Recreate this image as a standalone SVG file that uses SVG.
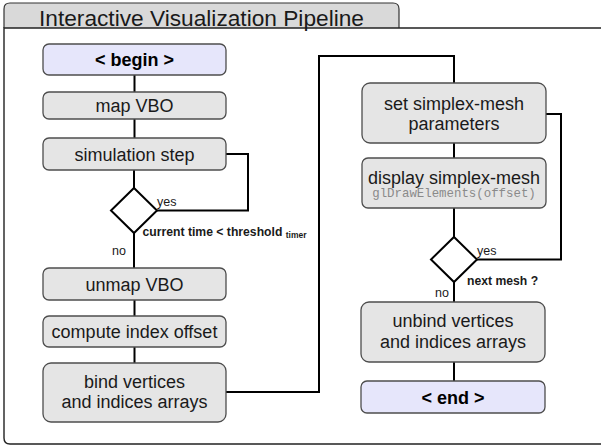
<svg xmlns="http://www.w3.org/2000/svg" width="601" height="448" viewBox="0 0 601 448">
<style>
.box{fill:#e5e5e5;stroke:#4d4d4d;stroke-width:1.3}
.term{fill:#e6e6fb;stroke:#4d4d4d;stroke-width:1.3}
.dia{fill:#fff;stroke:#000;stroke-width:2}
.t{font-family:"Liberation Sans",Arial,sans-serif;font-size:18px;fill:#1a1a1a;text-anchor:middle}
.tb{font-family:"Liberation Sans",Arial,sans-serif;font-size:18px;font-weight:bold;fill:#000;text-anchor:middle}
.lbl{font-family:"Liberation Sans",Arial,sans-serif;font-size:12.5px;fill:#1a1a1a}
.cond{font-family:"Liberation Sans",Arial,sans-serif;font-size:12.2px;font-weight:bold;fill:#1a1a1a}
.mono{font-family:"Liberation Mono","Courier New",monospace;font-size:12.4px;fill:#8a8a8a;text-anchor:middle}
.c{fill:none;stroke:#000;stroke-width:2}
</style>
<rect width="601" height="448" fill="#fff"/>
<g id="frame">
<path d="M4,28 V9 Q4,3 10,3 H393 Q399,3 399,9 V28" fill="#d9d9d9" stroke="#333" stroke-width="1.2"/>
<path d="M610,28 H4 V438 Q4,444 10,444 H610" fill="#fff" stroke="#222" stroke-width="1.4"/>
<text x="39" y="26" font-family="'Liberation Sans',Arial,sans-serif" font-size="22.7" fill="#1a1a1a">Interactive Visualization Pipeline</text>
</g>
<g id="connectors">
<path class="c" d="M134.5,75 V92"/>
<path class="c" d="M134.5,119 V138"/>
<path class="c" d="M134,170 V188"/>
<path class="c" d="M226,154 H248 V210.5 H157"/>
<path class="c" d="M134,233 V268"/>
<path class="c" d="M134.5,300 V316"/>
<path class="c" d="M134.5,347 V363"/>
<path class="c" d="M226,392 H319 V56 H454 V83"/>
<path class="c" d="M454,143 V158"/>
<path class="c" d="M454,208 V237"/>
<path class="c" d="M546,114 H561 V259.5 H477"/>
<path class="c" d="M454,282 V302"/>
<path class="c" d="M454,362 V381"/>
</g>
<g id="begin"><rect class="term" x="43" y="44" width="183" height="31" rx="6"/><text class="tb" x="134.5" y="66">&lt; begin &gt;</text></g>
<g id="mapVBO"><rect class="box" x="43" y="92" width="183" height="27" rx="6"/><text class="t" x="134.5" y="112">map VBO</text></g>
<g id="simStep"><rect class="box" x="43" y="138" width="183" height="32" rx="6"/><text class="t" x="134.5" y="160.5">simulation step</text></g>
<g id="decision1"><polygon class="dia" points="134,188 157,210.5 134,233 111,210.5"/>
<text class="lbl" x="157" y="206">yes</text>
<text class="cond" x="142.5" y="236">current time &lt; threshold <tspan font-size="8.5" dy="2">timer</tspan></text>
<text class="lbl" x="112" y="255">no</text></g>
<g id="unmapVBO"><rect class="box" x="43" y="268" width="183" height="32" rx="6"/><text class="t" x="134.5" y="290.5">unmap VBO</text></g>
<g id="computeOffset"><rect class="box" x="43" y="316" width="183" height="31" rx="6"/><text class="t" x="134.5" y="338">compute index offset</text></g>
<g id="bindArrays"><rect class="box" x="43" y="363" width="183" height="59" rx="8"/><text class="t" x="134.5" y="388">bind vertices</text><text class="t" x="134.5" y="408">and indices arrays</text></g>
<g id="setParams"><rect class="box" x="362" y="83" width="184" height="60" rx="8"/><text class="t" x="454" y="110">set simplex-mesh</text><text class="t" x="454" y="130">parameters</text></g>
<g id="display"><rect class="box" x="362" y="158" width="184" height="50" rx="6"/><text class="t" x="454" y="183.5">display simplex-mesh</text><text class="mono" x="454" y="197">glDrawElements(offset)</text></g>
<g id="decision2"><polygon class="dia" points="454,237 477,259.5 454,282 431,259.5"/>
<text class="lbl" x="477" y="255">yes</text>
<text class="cond" x="467" y="285">next mesh ?</text>
<text class="lbl" x="435" y="297">no</text></g>
<g id="unbindArrays"><rect class="box" x="361" y="302" width="184" height="60" rx="8"/><text class="t" x="453" y="327">unbind vertices</text><text class="t" x="453" y="348">and indices arrays</text></g>
<g id="end"><rect class="term" x="361" y="381" width="184" height="32" rx="6"/><text class="tb" x="453" y="403.5">&lt; end &gt;</text></g>
</svg>
